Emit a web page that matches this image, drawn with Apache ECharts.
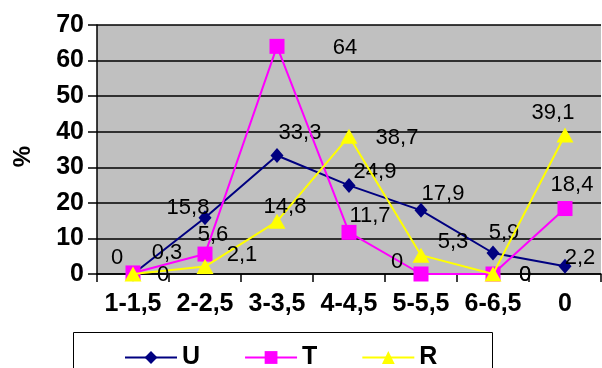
<!DOCTYPE html>
<html>
<head>
<meta charset="utf-8">
<script src="https://cdn.jsdelivr.net/npm/echarts@6/dist/echarts.min.js"></script>
<style>
  html, body { margin: 0; padding: 0; background: #fff; }
  #chart { width: 602px; height: 368px; }
</style>
</head>
<body>
<div id="chart"></div>
<script>
// Categories along the x axis
const categories = ['1-1,5', '2-2,5', '3-3,5', '4-4,5', '5-5,5', '6-6,5', '0'];

// Series values (%)
const valuesU = [0, 15.8, 33.3, 24.9, 17.9, 5.9, 2.2];
const valuesT = [0.3, 5.6, 64, 11.7, 0, 0, 18.4];
const valuesR = [0, 2.1, 14.8, 38.7, 5.3, 0, 39.1];

// Y axis ticks
const yTicks = [0, 10, 20, 30, 40, 50, 60, 70];

// Where each value label sits relative to its point (px)
const labelShiftU = [[-16, -16], [-17, -10], [23, -23], [26, -13], [22, -16], [11, -20], [15, -8]];
const labelShiftT = [[34, -20], [8, -19], [68, 2], [21, -16], [-24, -12], [32, 1], [7, -24]];
const labelShiftR = [[30, 1], [37, -12], [8, -14], [48, 2], [32, -13], [32, 1], [-12, -22]];

const FONT = 'Liberation Sans, Arial, sans-serif';
const fmt = v => String(v).replace('.', ',');

function withLabels(values, shifts) {
  return values.map((v, i) => ({
    value: v,
    label: { offset: shifts[i] }
  }));
}

const labelStyle = {
  show: true,
  position: 'inside',
  fontFamily: FONT,
  fontSize: 22,
  color: '#000',
  formatter: p => fmt(p.value)
};

const chart = echarts.init(document.getElementById('chart'), null, { renderer: 'canvas' });

chart.setOption({
  animation: false,
  backgroundColor: '#fff',
  textStyle: { fontFamily: FONT },
  grid: {
    left: 97, right: 1, top: 25, bottom: 94,
    show: true, backgroundColor: '#c0c0c0', borderWidth: 0
  },
  graphic: [{
    type: 'rect',
    shape: { x: 73.5, y: 332.5, width: 419, height: 60 },
    style: { fill: '#fff', stroke: '#000', lineWidth: 1 },
    z: 0
  }],
  legend: {
    left: 119, top: 340,
    itemWidth: 52, itemHeight: 16, itemGap: 44,
    textStyle: { fontSize: 25, fontWeight: 'bold', color: '#000', fontFamily: FONT },
    data: ['U', 'T', 'R']
  },
  xAxis: {
    type: 'category',
    data: categories,
    boundaryGap: true,
    axisLine: { lineStyle: { color: '#000', width: 1.5 } },
    axisTick: { show: true, length: 8, lineStyle: { color: '#000', width: 1.5 } },
    axisLabel: { fontSize: 25, fontWeight: 'bold', color: '#000', margin: 18, interval: 0, fontFamily: FONT },
    splitLine: { show: false }
  },
  yAxis: {
    type: 'value',
    min: yTicks[0], max: yTicks[yTicks.length - 1], interval: 10,
    name: '%',
    nameLocation: 'middle',
    nameGap: 62,
    nameRotate: 90,
    nameTextStyle: { fontSize: 24, fontWeight: 'bold', color: '#000', padding: [0, 14, 0, 0], fontFamily: FONT },
    axisLine: { show: true, lineStyle: { color: '#000', width: 1.5 } },
    axisTick: { show: true, length: 9, lineStyle: { color: '#000', width: 1.5 } },
    axisLabel: { fontSize: 25, fontWeight: 'bold', color: '#000', margin: 13, fontFamily: FONT },
    splitLine: { show: true, lineStyle: { color: '#000', width: 1.5 } }
  },
  series: [
    {
      name: 'U', type: 'line',
      data: withLabels(valuesU, labelShiftU),
      symbol: 'diamond', symbolSize: [13, 15],
      itemStyle: { color: '#000080' },
      lineStyle: { color: '#000080', width: 2 },
      label: labelStyle, z: 3
    },
    {
      name: 'T', type: 'line',
      data: withLabels(valuesT, labelShiftT),
      symbol: 'rect', symbolSize: 15,
      itemStyle: { color: '#ff00ff' },
      lineStyle: { color: '#ff00ff', width: 2 },
      label: labelStyle, z: 4
    },
    {
      name: 'R', type: 'line',
      data: withLabels(valuesR, labelShiftR),
      symbol: 'triangle', symbolSize: [17, 15],
      itemStyle: { color: '#ffff00' },
      lineStyle: { color: '#ffff00', width: 2 },
      label: labelStyle, z: 5
    }
  ]
});
</script>
</body>
</html>
